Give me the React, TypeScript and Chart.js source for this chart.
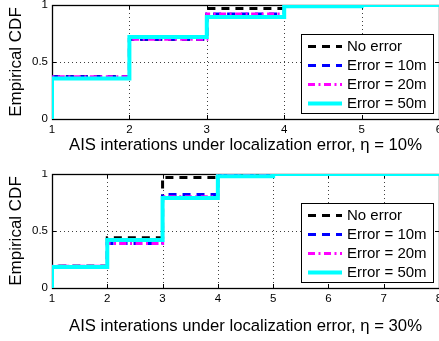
import React, { useEffect, useRef } from "react";
import { Chart, registerables } from "chart.js";

Chart.register(...registerables);

// ---------- data ----------
const legendLabels = ["No error", "Error = 10m", "Error = 20m", "Error = 50m"];

const topSteps = [1, 2, 3, 4, 5, 6];
const topNoError = [0.37, 0.7, 0.97, 1.0, 1.0, 1.0];
const top10m = [0.37, 0.7, 0.92, 1.0, 1.0, 1.0];
const top20m = [0.37, 0.7, 0.92, 1.0, 1.0, 1.0];
const top50m = [0.355, 0.72, 0.895, 0.99, 1.0, 1.0];

const bottomSteps = [1, 2, 3, 4, 5, 6, 7, 8];
const bottomNoError = [0.19, 0.44, 0.97, 1.0, 1.0, 1.0, 1.0, 1.0];
const bottom10m = [0.19, 0.39, 0.82, 0.99, 1.0, 1.0, 1.0, 1.0];
const bottom20m = [0.19, 0.39, 0.8, 0.99, 1.0, 1.0, 1.0, 1.0];
const bottom50m = [0.185, 0.42, 0.79, 0.98, 1.0, 1.0, 1.0, 1.0];

const topXTicks = [1, 2, 3, 4, 5, 6];
const bottomXTicks = [1, 2, 3, 4, 5, 6, 7, 8];
const yTicks = [0, 0.5, 1];

const yTitle = "Empirical CDF";
const topXTitle = "AIS interations under localization error, η = 10%";
const bottomXTitle = "AIS interations under localization error, η = 30%";

// ---------- styles ----------
const FONT = "'Liberation Sans', Arial, Helvetica, sans-serif";
const seriesColors = ["#000000", "#0000ff", "#ff00ff", "#00ffff"];
const seriesDash = [[8, 6], [8, 6], [7, 3.5, 2, 3.5], []];
const seriesWidth = [3, 3, 3, 4];
const seriesOrder = [3, 2, 1, 0];

function buildDatasets(steps: number[], series: number[][]) {
  return series.map((vals, i) => ({
    label: legendLabels[i],
    data: [{ x: steps[0], y: 0 }, ...steps.map((x, k) => ({ x, y: vals[k] }))],
    stepped: "before" as const,
    borderColor: seriesColors[i],
    backgroundColor: seriesColors[i],
    borderWidth: seriesWidth[i],
    borderDash: seriesDash[i],
    borderCapStyle: "butt" as const,
    borderJoinStyle: "miter" as const,
    pointRadius: 0,
    fill: false,
    order: seriesOrder[i],
  }));
}

function matlabPlugin(xTicks: number[]) {
  return {
    id: "matlabFrame",
    beforeDatasetsDraw(chart: any) {
      const { ctx, chartArea: a, scales } = chart;
      const x = scales.x;
      const y = scales.y;
      ctx.save();
      // dotted grid
      ctx.strokeStyle = "rgba(0,0,0,0.75)";
      ctx.lineWidth = 1;
      ctx.setLineDash([1, 3]);
      for (const t of xTicks) {
        const px = Math.round(x.getPixelForValue(t)) + 0.5;
        ctx.beginPath();
        ctx.moveTo(px, a.top);
        ctx.lineTo(px, a.bottom);
        ctx.stroke();
      }
      for (const t of yTicks) {
        const py = Math.round(y.getPixelForValue(t)) + 0.5;
        ctx.beginPath();
        ctx.moveTo(a.left, py);
        ctx.lineTo(a.right, py);
        ctx.stroke();
      }
      // frame
      ctx.setLineDash([]);
      ctx.strokeStyle = "#000";
      ctx.lineWidth = 1.3;
      ctx.strokeRect(Math.round(a.left) + 0.5, Math.round(a.top) + 0.5, Math.round(a.right - a.left), Math.round(a.bottom - a.top));
      // inward ticks
      const tl = 4;
      ctx.lineWidth = 1;
      for (const t of xTicks) {
        const px = Math.round(x.getPixelForValue(t)) + 0.5;
        ctx.beginPath();
        ctx.moveTo(px, a.bottom);
        ctx.lineTo(px, a.bottom - tl);
        ctx.moveTo(px, a.top);
        ctx.lineTo(px, a.top + tl);
        ctx.stroke();
      }
      for (const t of yTicks) {
        const py = Math.round(y.getPixelForValue(t)) + 0.5;
        ctx.beginPath();
        ctx.moveTo(a.left, py);
        ctx.lineTo(a.left + tl, py);
        ctx.moveTo(a.right, py);
        ctx.lineTo(a.right - tl, py);
        ctx.stroke();
      }
      ctx.restore();
    },
    afterDatasetsDraw(chart: any) {
      const { ctx, chartArea: a } = chart;
      const w = 132;
      const h = 79;
      const bx = Math.round(a.right - 6 - w);
      const by = Math.round(a.bottom - 6 - h);
      ctx.save();
      ctx.fillStyle = "#fff";
      ctx.fillRect(bx, by, w, h);
      ctx.strokeStyle = "#000";
      ctx.lineWidth = 1;
      ctx.setLineDash([]);
      ctx.strokeRect(bx + 0.5, by + 0.5, w, h);
      chart.data.datasets.forEach((ds: any, i: number) => {
        const cy = by + 12.5 + i * 19;
        ctx.strokeStyle = ds.borderColor;
        ctx.lineWidth = ds.borderWidth;
        ctx.lineCap = "butt";
        ctx.setLineDash(ds.borderDash || []);
        ctx.beginPath();
        ctx.moveTo(bx + 7, cy);
        ctx.lineTo(bx + 41, cy);
        ctx.stroke();
        ctx.setLineDash([]);
        ctx.fillStyle = "#000";
        ctx.font = `15px ${FONT}`;
        ctx.textBaseline = "middle";
        ctx.textAlign = "left";
        ctx.fillText(ds.label, bx + 46, cy);
      });
      ctx.restore();
    },
  };
}

function makeConfig(opts: {
  steps: number[];
  series: number[][];
  xTicks: number[];
  xMax: number;
  title: string;
  padTop: number;
  xAxisHeight: number;
  titlePadBottom: number;
}) {
  return {
    type: "line" as const,
    data: { datasets: buildDatasets(opts.steps, opts.series) },
    options: {
      animation: false,
      responsive: false,
      devicePixelRatio: 1,
      layout: { padding: { left: 0, right: 21, top: opts.padTop, bottom: 0 } },
      plugins: { legend: { display: false }, tooltip: { enabled: false } },
      scales: {
        x: {
          type: "linear",
          min: opts.steps[0],
          max: opts.xMax,
          afterBuildTicks: (s: any) => {
            s.ticks = opts.xTicks.map((v) => ({ value: v }));
          },
          afterFit: (s: any) => {
            s.height = opts.xAxisHeight;
            s.paddingLeft = 0;
            s.paddingRight = 0;
          },
          grid: { display: false, drawTicks: false },
          border: { display: false },
          ticks: {
            color: "#000",
            padding: 4,
            maxRotation: 0,
            autoSkip: false,
            font: { family: FONT, size: 11.5 },
            callback: (v: any) => String(v),
          },
          title: {
            display: true,
            text: opts.title,
            color: "#000",
            font: { family: FONT, size: 16.7 },
            padding: { top: 0, bottom: opts.titlePadBottom },
          },
        },
        y: {
          type: "linear",
          min: 0,
          max: 1,
          afterBuildTicks: (s: any) => {
            s.ticks = yTicks.map((v) => ({ value: v }));
          },
          afterFit: (s: any) => {
            s.width = 52;
            s.paddingTop = 0;
            s.paddingBottom = 0;
          },
          grid: { display: false, drawTicks: false },
          border: { display: false },
          ticks: {
            color: "#000",
            padding: 4,
            autoSkip: false,
            font: { family: FONT, size: 11.5 },
            callback: (v: any) => String(v),
          },
          title: {
            display: true,
            text: yTitle,
            color: "#000",
            font: { family: FONT, size: 17 },
            padding: { top: 6, bottom: 0 },
          },
        },
      },
    },
    plugins: [matlabPlugin(opts.xTicks)],
  };
}

export default function App() {
  const topRef = useRef<HTMLCanvasElement>(null);
  const bottomRef = useRef<HTMLCanvasElement>(null);

  useEffect(() => {
    const c1 = new Chart(
      topRef.current as HTMLCanvasElement,
      makeConfig({
        steps: topSteps,
        series: [topNoError, top10m, top20m, top50m],
        xTicks: topXTicks,
        xMax: 6,
        title: topXTitle,
        padTop: 5,
        xAxisHeight: 51,
        titlePadBottom: 15,
      }) as any
    );
    const c2 = new Chart(
      bottomRef.current as HTMLCanvasElement,
      makeConfig({
        steps: bottomSteps,
        series: [bottomNoError, bottom10m, bottom20m, bottom50m],
        xTicks: bottomXTicks,
        xMax: 8,
        title: bottomXTitle,
        padTop: 4,
        xAxisHeight: 53,
        titlePadBottom: 5,
      }) as any
    );
    return () => {
      c1.destroy();
      c2.destroy();
    };
  }, []);

  return (
    <div
      style={{
        position: "fixed",
        left: 0,
        top: 0,
        width: 439,
        height: 341,
        overflow: "hidden",
        background: "#fff",
      }}
    >
      <canvas
        ref={topRef}
        width={460}
        height={170}
        style={{ position: "absolute", left: 0, top: 0, width: 460, height: 170 }}
      />
      <canvas
        ref={bottomRef}
        width={460}
        height={171}
        style={{ position: "absolute", left: 0, top: 170, width: 460, height: 171 }}
      />
    </div>
  );
}
